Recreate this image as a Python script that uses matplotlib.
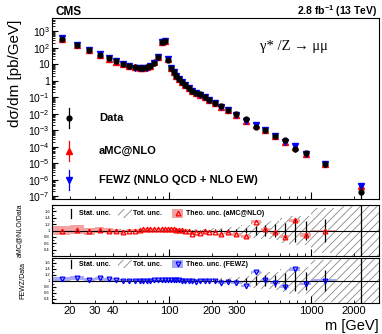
import numpy as np
import matplotlib
matplotlib.use('Agg')
import matplotlib.pyplot as plt
from matplotlib.patches import Rectangle
from matplotlib.ticker import FixedLocator, LogLocator, FuncFormatter, NullFormatter, MultipleLocator

plt.rcParams['font.family'] = ['Liberation Sans', 'DejaVu Sans']
plt.rcParams['mathtext.fontset'] = 'custom'
plt.rcParams['mathtext.rm'] = 'Liberation Sans'
plt.rcParams['mathtext.it'] = 'Liberation Sans:italic'
plt.rcParams['mathtext.bf'] = 'Liberation Sans:bold'
plt.rcParams['hatch.linewidth'] = 0.6

# mass bin edges [GeV]
edges = [15, 20, 25, 30, 35, 40, 45, 50, 55, 60, 64, 68, 72, 76, 81, 86, 91, 96, 101, 106,
         110, 115, 120, 126, 133, 141, 150, 160, 171, 185, 200, 220, 243, 273, 320, 380,
         440, 510, 600, 700, 830, 1000, 1500, 3000]

# measured dsigma/dm [pb/GeV]
data = [350, 138, 73, 38, 22.5, 14.8, 10.3, 7.8, 6.4, 5.9, 5.9, 6.4, 7.8, 12.3, 27, 220, 240,
        19.3, 6.1, 3.2, 2.0, 1.32, 0.87, 0.55, 0.38, 0.25, 0.195, 0.148, 0.102, 0.068, 0.045,
        0.030, 0.0174, 0.010, 0.0048, 0.0017, 0.00107, 0.00048, 0.00026, 7.9e-5, 4.4e-5,
        8.9e-6, 1.9e-7]

# theory / data
ratio_amc = [1.00, 1.03, 0.97, 1.02, 0.99, 0.98, 0.96, 1.00, 1.00, 1.02,
             1.04, 1.04, 1.05, 1.05, 1.05, 1.05, 1.05, 1.05, 1.04, 1.04,
             1.03, 1.01, 1.01, 0.98, 0.99, 0.90, 0.96, 0.93, 0.97, 0.96,
             0.95, 0.88, 0.94, 0.88, 0.82, 1.27, 1.04, 0.94, 0.80, 1.32,
             0.86, 0.99, 2.3]
ratio_fewz = [1.05, 1.09, 1.03, 1.07, 1.04, 1.03, 0.99, 1.00, 0.99, 0.99,
              0.99, 0.99, 1.00, 1.01, 1.03, 1.03, 1.02, 1.03, 1.01, 1.02,
              1.02, 1.01, 1.00, 0.99, 0.98, 0.97, 0.96, 0.97, 0.99, 1.00,
              0.97, 0.91, 0.96, 0.91, 0.82, 1.29, 1.01, 0.91, 0.80, 1.37,
              0.89, 1.00, 2.3]

# relative uncertainties
stat_unc = [0.02, 0.02, 0.02, 0.02, 0.02, 0.02, 0.02, 0.02, 0.02, 0.02,
            0.02, 0.02, 0.02, 0.01, 0.01, 0.005, 0.005, 0.01, 0.02, 0.02,
            0.02, 0.02, 0.02, 0.02, 0.02, 0.02, 0.03, 0.03, 0.03, 0.03,
            0.04, 0.04, 0.05, 0.05, 0.08, 0.15, 0.17, 0.20, 0.25, 0.36,
            0.30, 0.36, 1.0]
tot_unc = [0.06, 0.06, 0.05, 0.05, 0.05, 0.05, 0.05, 0.05, 0.05, 0.05,
           0.05, 0.05, 0.04, 0.04, 0.04, 0.04, 0.04, 0.04, 0.04, 0.04,
           0.04, 0.04, 0.04, 0.04, 0.04, 0.05, 0.05, 0.05, 0.05, 0.06,
           0.07, 0.08, 0.10, 0.12, 0.16, 0.25, 0.28, 0.30, 0.38, 0.45,
           0.45, 0.70, 2.0]
amc_unc = [0.15, 0.15, 0.10, 0.10, 0.08, 0.07, 0.06, 0.05, 0.05, 0.04,
           0.04, 0.04, 0.04, 0.04, 0.03, 0.03, 0.03, 0.03, 0.03, 0.03,
           0.03, 0.03, 0.03, 0.03, 0.03, 0.04, 0.04, 0.04, 0.04, 0.04,
           0.04, 0.04, 0.04, 0.05, 0.05, 0.05, 0.05, 0.05, 0.05, 0.05,
           0.05, 0.04, 0.04]
fewz_unc = [0.06, 0.06, 0.05, 0.05, 0.05, 0.04, 0.04, 0.03, 0.03, 0.03,
            0.03, 0.03, 0.03, 0.03, 0.03, 0.03, 0.03, 0.03, 0.03, 0.03,
            0.03, 0.03, 0.03, 0.03, 0.03, 0.03, 0.03, 0.03, 0.03, 0.03,
            0.03, 0.03, 0.04, 0.04, 0.04, 0.04, 0.04, 0.04, 0.04, 0.04,
            0.04, 0.04, 0.04]

edges = np.array(edges, dtype=float)
cent = 0.5 * (edges[:-1] + edges[1:])
widths = np.diff(edges)
data = np.array(data)
stat = np.array(stat_unc)
amc = data * np.array(ratio_amc)
fewz = data * np.array(ratio_fewz)

fig = plt.figure(figsize=(3.82, 3.34), dpi=100)
ax = fig.add_axes([0.1361, 0.4042, 0.856, 0.5419])
r1 = fig.add_axes([0.1361, 0.2335, 0.856, 0.1527])
r2 = fig.add_axes([0.1361, 0.0928, 0.856, 0.1347])

# ---- main panel
ax.errorbar(cent, amc, yerr=amc * 0.03, fmt='^', color='red', ms=4, elinewidth=0.8, zorder=2)
ax.errorbar(cent, fewz, yerr=fewz * 0.03, fmt='v', color='blue', ms=4, elinewidth=0.8, zorder=2)
lo = data * np.minimum(stat, 0.999)
ax.errorbar(cent, data, yerr=[lo, data * stat], fmt='o', color='black', ms=3.5,
            elinewidth=0.9, zorder=3)

ax.set_yscale('log')
ax.set_ylim(7e-8, 6.3e3)


def dec_fmt(v, p):
    n = int(round(np.log10(v)))
    if n == 0:
        return '1'
    if n == 1:
        return '10'
    return r'$10^{%d}$' % n


ax.yaxis.set_major_locator(LogLocator(base=10, numticks=20))
ax.yaxis.set_minor_locator(LogLocator(base=10, subs=np.arange(2, 10), numticks=20))
ax.yaxis.set_major_formatter(FuncFormatter(dec_fmt))
ax.yaxis.set_minor_formatter(NullFormatter())
ax.tick_params(axis='y', labelsize=7.5, pad=1.5)

# legend of the main panel
leg = [('o', 'black', 3.5, 0.449, 'Data'),
       ('^', 'red', 4, 0.265, 'aMC@NLO'),
       ('v', 'blue', 4, 0.105, 'FEWZ (NNLO QCD + NLO EW)')]
for mk, col, ms, fy, lab in leg:
    ax.plot([0.052, 0.052], [fy - 0.055, fy + 0.055], color=col, lw=0.9, transform=ax.transAxes)
    ax.plot(0.052, fy, marker=mk, color=col, ms=ms, transform=ax.transAxes)
    ax.text(0.144, fy, lab, transform=ax.transAxes, fontsize=8, fontweight='bold', va='center')

ax.text(0.635, 0.845, '\u03b3* /Z \u2192 \u03bc\u03bc', transform=ax.transAxes, fontsize=10.5,
        family=['Liberation Serif', 'DejaVu Serif'], va='center')

fig.text(55 / 382, 1 - 15 / 334, 'CMS', fontsize=8.5, fontweight='bold')
fig.text(377 / 382, 1 - 15 / 334, r'2.8 fb$^{\mathbf{-1}}$ (13 TeV)', fontsize=7.5,
         fontweight='bold', ha='right')
fig.text(15 / 382, 1 - 20 / 334, 'd\u03c3/dm [pb/GeV]', rotation=90, fontsize=11,
         ha='center', va='top')

# ---- ratio panels
panels = [(r1, ratio_amc, amc_unc, '^', 'red', '#f4a3a3', 'aMC@NLO/Data',
           'Theo. unc. (aMC@NLO)', (0.2, 1.8), 0.84),
          (r2, ratio_fewz, fewz_unc, 'v', 'blue', '#a8a8f4', 'FEWZ/Data',
           'Theo. unc. (FEWZ)', (0.25, 1.75), 0.865)]
for r, rat, tunc, mk, col, boxcol, ylab, tlab, ylim, ly in panels:
    rat = np.array(rat)
    tunc = np.array(tunc)
    tot = np.array(tot_unc)
    r.bar(edges[:-1], 2 * tot, bottom=1 - tot, width=widths, align='edge',
          facecolor='none', edgecolor='#888888', hatch='////', linewidth=0, zorder=1)
    r.bar(edges[:-1], 2 * tunc, bottom=rat - tunc, width=widths, align='edge',
          color=boxcol, linewidth=0, zorder=2)
    r.axhline(1, color='black', lw=0.8, zorder=3)
    r.errorbar(cent, np.ones_like(cent), yerr=stat, fmt='none', ecolor='black',
               elinewidth=0.9, zorder=4)
    r.plot(cent, rat, ls='none', marker=mk, ms=3.4, mfc='none', mec=col, mew=0.9, zorder=5)
    r.set_ylim(*ylim)
    r.yaxis.set_major_locator(MultipleLocator(0.2))
    r.yaxis.set_minor_locator(MultipleLocator(0.1))
    r.yaxis.set_major_formatter(FuncFormatter(
        lambda v, p: ('%g' % round(v, 1)) if 0.35 < v < 1.65 else ''))
    r.tick_params(axis='y', labelsize=3.0, pad=1.5)
    r.tick_params(axis='y', which='major', length=3)
    r.tick_params(axis='y', which='minor', length=1.5)
    r.set_ylabel(ylab, fontsize=5, labelpad=8)

    # panel legend
    r.plot([0.058, 0.058], [ly - 0.09, ly + 0.09], color='black', lw=0.9, transform=r.transAxes)
    r.text(0.084, ly, 'Stat. unc.', transform=r.transAxes, fontsize=5, fontweight='bold',
           va='center')
    r.add_patch(Rectangle((0.202, ly - 0.09), 0.043, 0.18, transform=r.transAxes,
                          facecolor='none', edgecolor='#888888', hatch='////', linewidth=0))
    r.text(0.248, ly, 'Tot. unc.', transform=r.transAxes, fontsize=5, fontweight='bold',
           va='center')
    r.add_patch(Rectangle((0.367, ly - 0.09), 0.034, 0.18, transform=r.transAxes,
                          facecolor=boxcol, linewidth=0))
    r.plot(0.384, ly, marker=mk, ms=3.4, mfc='none', mec=col, mew=0.9, transform=r.transAxes)
    r.text(0.411, ly, tlab, transform=r.transAxes, fontsize=5, fontweight='bold', va='center')

r1.yaxis.set_label_coords(-0.088, 0.5)
r2.yaxis.set_label_coords(-0.078, 0.5)

# ---- common x axis
lab_minor = {20, 30, 40, 200, 300, 2000}
for a in (ax, r1, r2):
    a.set_xscale('log')
    a.set_xlim(15, 3000)
    a.xaxis.set_major_locator(FixedLocator([100, 1000]))
    a.xaxis.set_minor_locator(LogLocator(base=10, subs=np.arange(2, 10), numticks=20))
    a.tick_params(which='both', direction='in', top=False, right=False)
    a.tick_params(axis='x', which='major', length=5)
    a.tick_params(axis='x', which='minor', length=2.5)
    for s in a.spines.values():
        s.set_linewidth(0.8)
    if a is r2:
        a.xaxis.set_major_formatter(FuncFormatter(lambda v, p: '%d' % round(v)))
        a.xaxis.set_minor_formatter(FuncFormatter(
            lambda v, p: ('%d' % round(v)) if int(round(v)) in lab_minor else ''))
        a.tick_params(axis='x', which='both', labelsize=8, pad=2)
    else:
        a.xaxis.set_major_formatter(NullFormatter())
        a.xaxis.set_minor_formatter(NullFormatter())
ax.tick_params(axis='y', which='major', length=4)
ax.tick_params(axis='y', which='minor', length=2)

fig.text(379 / 382, 1 - 326 / 334, 'm [GeV]', fontsize=10.5, ha='right', va='center')

fig.savefig('out.png', dpi=100)
